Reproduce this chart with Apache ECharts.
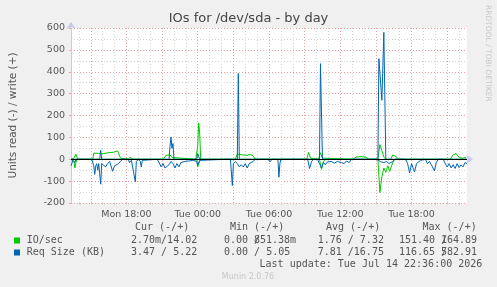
<!DOCTYPE html>
<html><head><meta charset="utf-8">
<script src="https://cdn.jsdelivr.net/npm/echarts@6/dist/echarts.min.js"></script>
<style>html,body{margin:0;padding:0;background:#f0f0f0}#c{width:497px;height:287px}</style>
</head><body><div id="c"></div>
<script>
// x values: minutes since Mon 00:00
const xMin = 800, xMax = 2800;
const majorTicks = [900,1080,1260,1440,1620,1800,1980,2160,2340,2520,2700];
const minorTicks = [840,900,960,1020,1080,1140,1200,1260,1320,1380,1440,1500,1560,1620,1680,1740,1800,1860,1920,1980,2040,2100,2160,2220,2280,2340,2400,2460,2520,2580,2640,2700,2760];
const labelTicks = [1080,1440,1800,2160,2520];
const yTicks = [-200,-100,0,100,200,300,400,500,600];

const ioWrite = [[800,0],[815,5],[825,23],[830,10],[835,0],[910,0],[915,28],[925,25],[940,27],[965,26],[990,30],[1015,32],[1035,38],[1040,28],[1050,5],[1055,0],[1090,0],[1100,10],[1110,0],[1265,0],[1280,18],[1290,26],[1300,20],[1310,8],[1320,0],[1430,0],[1440,60],[1445,166],[1450,120],[1455,0],[1630,0],[1640,24],[1650,15],[1665,20],[1690,18],[1705,22],[1720,15],[1730,0],[1990,0],[2000,31],[2010,5],[2020,0],[2050,0],[2060,30],[2070,5],[2080,0],[2225,0],[2240,10],[2265,12],[2290,10],[2305,0],[2350,0],[2360,67],[2370,40],[2380,10],[2390,0],[2415,0],[2425,20],[2435,28],[2445,10],[2455,0],[2715,0],[2730,20],[2745,26],[2760,8],[2775,5],[2795,8]];
const ioRead = [[800,0],[815,-10],[820,-40],[825,-15],[830,0],[1435,0],[1440,-35],[1450,-10],[1455,0],[2055,0],[2065,-46],[2075,-10],[2085,0],[2350,0],[2360,-152],[2370,-80],[2380,-40],[2390,-60],[2400,-30],[2410,-55],[2420,-58],[2425,-15],[2435,0],[2800,0]];
const reqWrite = [[800,0],[945,0],[950,41],[955,0],[1295,0],[1300,60],[1305,102],[1310,50],[1315,72],[1320,0],[1435,0],[1440,26],[1445,20],[1450,0],[1640,0],[1645,392],[1650,0],[2055,0],[2060,437],[2070,0],[2350,0],[2355,460],[2370,270],[2380,580],[2390,0],[2800,0]];
const reqRead = [[800,-30],[810,-5],[820,-15],[825,0],[905,0],[915,-30],[920,-69],[925,-30],[930,-20],[935,-50],[940,-20],[950,-114],[955,-20],[965,-15],[975,-35],[985,-20],[995,-10],[1010,-55],[1020,-30],[1030,-25],[1040,-20],[1050,-10],[1060,0],[1090,0],[1095,-15],[1105,-5],[1115,0],[1125,-103],[1130,-10],[1140,0],[1150,-10],[1155,-35],[1160,-5],[1165,0],[1235,0],[1245,-15],[1255,-35],[1265,-20],[1275,-40],[1285,-46],[1295,-25],[1305,-10],[1315,-20],[1325,-40],[1335,-20],[1345,-35],[1355,-15],[1365,-20],[1375,-10],[1385,-18],[1395,-8],[1405,-15],[1415,-5],[1425,0],[1435,-10],[1440,-27],[1445,-30],[1450,-5],[1455,0],[1590,0],[1595,-8],[1600,0],[1605,0],[1615,-120],[1620,-20],[1630,-10],[1640,-20],[1650,-35],[1660,-25],[1670,-35],[1680,-20],[1690,-40],[1700,-20],[1710,-28],[1720,-10],[1730,0],[1795,0],[1805,-12],[1815,0],[1845,0],[1850,-82],[1855,-20],[1860,0],[1995,0],[2005,-42],[2015,-10],[2025,0],[2045,0],[2055,-20],[2065,-40],[2075,-15],[2085,-25],[2095,-12],[2105,-20],[2115,-10],[2130,-18],[2145,-10],[2165,-15],[2180,-20],[2190,-8],[2205,-15],[2215,0],[2345,0],[2365,-12],[2380,-15],[2395,-10],[2405,-20],[2415,-15],[2425,-10],[2435,0],[2490,0],[2500,-20],[2510,-62],[2520,-20],[2525,-15],[2535,-58],[2545,-20],[2555,-15],[2565,-5],[2575,0],[2590,0],[2600,-20],[2610,-10],[2620,-25],[2635,-53],[2645,-15],[2655,0],[2680,0],[2690,-20],[2700,-35],[2710,-20],[2720,-40],[2730,-25],[2740,-42],[2750,-20],[2760,-38],[2770,-25],[2780,-35],[2790,-15],[2800,-20]];

const legendHeaders = ['Cur (-/+)','Min (-/+)','Avg (-/+)','Max (-/+)'];
const legendNames = ['IO/sec','Req Size (KB)'];
const legendCur = ['2.70m/14.02','3.47 / 5.22'];
const legendMinA = ['0.00 /','0.00 / 5.05'];
const legendMinB = ['851.38m',''];
const legendAvg = ['1.76 / 7.32','7.81 /16.75'];
const legendMaxA = ['151.40 /','116.65 /'];
const legendMaxB = ['164.89','582.91'];
const colors = ['#00cc00','#0066b3'];

const chart = echarts.init(document.getElementById('c'), null, {renderer:'canvas'});
const axisCol = '#c8c8f0';
const majorCol = '#eca0a0';
const minorCol = '#d6d6d6';
const mono = 'DejaVu Sans Mono';
const sans = 'DejaVu Sans';
const cw = 6.0;

function lineSeries(name, data, color){
  return {name, type:'line', data, symbol:'none', showSymbol:false, animation:false,
    lineStyle:{color, width:1}, itemStyle:{color}, z:3};
}
const graphics = [];
function txt(x,y,text,opt){
  graphics.push({type:'text', x, y, silent:true, style:Object.assign({text, fill:'#555', font:'10px '+mono, textVerticalAlign:'middle'}, opt||{})});
}
txt(248.5,19,'IOs for /dev/sda - by day',{font:'13px '+sans, textAlign:'center', fill:'#444'});
legendHeaders.forEach((h,i)=>txt([135,230,326,422.5][i],227.5,h));
legendNames.forEach((n,i)=>{
  const y = 240.5 + i*12;
  graphics.push({type:'rect', shape:{x:14,y:y-3,width:6,height:6}, style:{fill:colors[i]}, silent:true});
  txt(26.7,y,n);
  txt(131,y,legendCur[i]);
  txt(224,y,legendMinA[i]);
  if(legendMinB[i]) txt(224+5*cw,y,legendMinB[i]);
  txt(317.7,y,legendAvg[i]);
  txt(399,y,legendMaxA[i]);
  txt(399+7*cw,y,legendMaxB[i]);
});
txt(482.3,264,'Last update: Tue Jul 14 22:36:00 2026',{textAlign:'right'});
txt(248,276.5,'Munin 2.0.76',{font:'8px '+sans, fill:'#c8c8c8', textAlign:'center'});
graphics.push({type:'text', x:488, y:5, rotation:-Math.PI/2, silent:true,
  style:{text:'RRDTOOL / TOBI OETIKER', font:'7.5px '+sans, fill:'#c8c8c8', textVerticalAlign:'middle'}});

const option = {
  backgroundColor:'#f0f0f0',
  animation:false,
  grid:{left:67, top:28, width:400, height:175, backgroundColor:'#ffffff', show:true, borderWidth:0},
  xAxis:[{
    type:'value', min:xMin, max:xMax,
    axisLine:{show:true, lineStyle:{color:axisCol}, symbol:['none','arrow'], symbolSize:[7,7], symbolOffset:[0,6]},
    axisTick:{show:true, customValues:majorTicks, length:2, inside:false, lineStyle:{color:majorCol}},
    axisLabel:{show:true, customValues:labelTicks, color:'#555', fontFamily:sans, fontSize:9.5, margin:7,
      formatter:v=>{const d=v<1440?'Mon':'Tue'; const h=Math.floor(v/60)%24; const m=v%60; return d+' '+String(h).padStart(2,'0')+':'+String(m).padStart(2,'0');}},
    splitLine:{show:true, lineStyle:{color:majorCol, type:[1,2], width:1}}, z:2
  },{
    type:'value', min:xMin, max:xMax, position:'bottom',
    axisLine:{show:false}, axisLabel:{show:false},
    axisTick:{show:true, customValues:minorTicks, length:2, lineStyle:{color:minorCol}},
    splitLine:{show:true, lineStyle:{color:minorCol, type:[1,2], width:1}}, z:1
  }],
  yAxis:{
    type:'value', min:-200, max:600, interval:100,
    name:'Units read (-) / write (+)', nameLocation:'middle', nameGap:52, nameRotate:90,
    nameTextStyle:{color:'#555', fontFamily:sans, fontSize:10.5},
    axisLine:{show:true, lineStyle:{color:axisCol}, symbol:['none','arrow'], symbolSize:[7,7], symbolOffset:[0,6]},
    axisTick:{show:true, length:2, lineStyle:{color:majorCol}},
    axisLabel:{color:'#555', fontFamily:sans, fontSize:9.5, margin:6},
    splitLine:{show:true, lineStyle:{color:majorCol, type:[1,2]}},
    minorTick:{show:false, splitNumber:2},
    minorSplitLine:{show:true, lineStyle:{color:minorCol, type:[1,2]}}
  },
  series:[
    Object.assign(lineSeries('IO/sec read', ioRead, colors[0]), {markLine:{silent:true, symbol:'none', label:{show:false}, lineStyle:{color:'#000', type:'solid', width:1}, data:[{yAxis:0}]}}),
    lineSeries('IO/sec write', ioWrite, colors[0]),
    lineSeries('Req Size read', reqRead, colors[1]),
    lineSeries('Req Size write', reqWrite, colors[1])
  ],
  graphic:graphics
};
chart.setOption(option);
</script></body></html>
